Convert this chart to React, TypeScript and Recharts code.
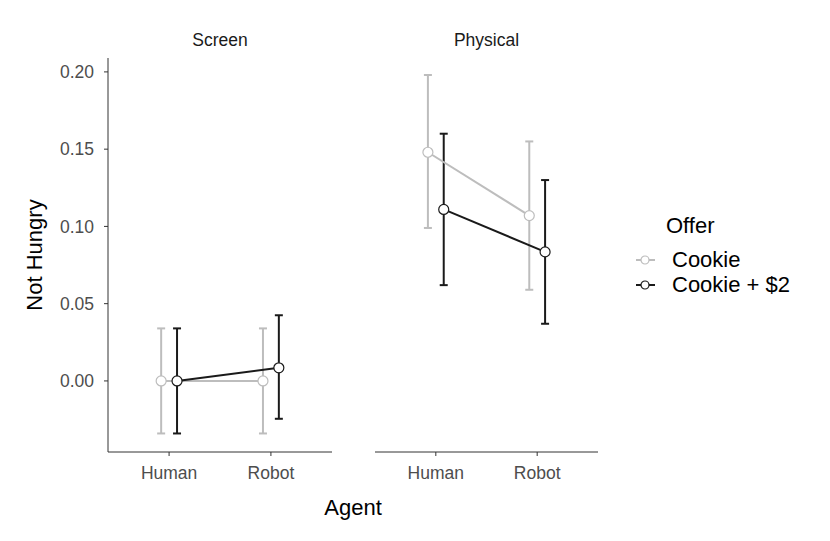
import React from "react";
import { ComposedChart, Scatter, XAxis, YAxis, ErrorBar } from "recharts";

const agents = ["Human", "Robot"];
const panels = ["Screen", "Physical"];
const offers = ["Cookie", "Cookie + $2"];

// means and [low, high] CIs
const screenCookie = [0.0, 0.0];
const screenCookieCI = [[-0.034, 0.034], [-0.034, 0.034]];
const screenCookie2 = [0.0, 0.0085];
const screenCookie2CI = [[-0.034, 0.034], [-0.0245, 0.0425]];
const physCookie = [0.148, 0.107];
const physCookieCI = [[0.099, 0.198], [0.059, 0.155]];
const physCookie2 = [0.111, 0.0835];
const physCookie2CI = [[0.062, 0.160], [0.037, 0.130]];

const yTicks = [0, 0.05, 0.1, 0.15, 0.2];

const GRAY = "#bdbdbd";
const BLACK = "#1a1a1a";
const FONT = "'Liberation Sans', Arial, sans-serif";
const DODGE = 0.078;

function rows(means: number[], ci: number[][], offset: number) {
  return means.map((m, i) => ({
    x: i + 1 + offset,
    y: m,
    err: [m - ci[i][0], ci[i][1] - m],
  }));
}

const dot = (color: string) => (props: any) => (
  <circle cx={props.cx} cy={props.cy} r={5} fill="#fff" stroke={color} strokeWidth={1.2} />
);

function Panel({ cookie, cookieCI, cookie2, cookie2CI, showY, width }: any) {
  const a = rows(cookie, cookieCI, -DODGE);
  const b = rows(cookie2, cookie2CI, DODGE);
  return (
    <ComposedChart
      width={width}
      height={500}
      margin={{ top: 58, right: 0, bottom: 8, left: 0 }}
    >
      <XAxis
        type="number"
        dataKey="x"
        domain={[0.4, 2.6]}
        ticks={[1, 2]}
        allowDataOverflow
        tickFormatter={(v) => agents[v - 1]}
        tickSize={4}
        tickMargin={11}
        height={40}
        stroke="#333"
        tick={{ fill: "#4d4d4d", fontSize: 17.5, fontFamily: FONT }}
      />
      <YAxis
        type="number"
        dataKey="y"
        hide={!showY}
        width={108}
        domain={[-0.046, 0.209]}
        ticks={yTicks}
        allowDataOverflow
        tickFormatter={(v) => v.toFixed(2)}
        tickSize={4}
        tickMargin={10}
        stroke="#333"
        tick={{ fill: "#4d4d4d", fontSize: 17.5, fontFamily: FONT }}
      />
      <Scatter
        data={a}
        dataKey="y"
        line={{ stroke: GRAY, strokeWidth: 2 }}
        shape={dot(GRAY)}
        isAnimationActive={false}
      >
        <ErrorBar dataKey="err" direction="y" width={4} stroke={GRAY} strokeWidth={2} />
      </Scatter>
      <Scatter
        data={b}
        dataKey="y"
        line={{ stroke: BLACK, strokeWidth: 2 }}
        shape={dot(BLACK)}
        isAnimationActive={false}
      >
        <ErrorBar dataKey="err" direction="y" width={4} stroke={BLACK} strokeWidth={2} />
      </Scatter>
    </ComposedChart>
  );
}

export default function App() {
  const text = { position: "absolute" as const, fontFamily: FONT };
  return (
    <div style={{ position: "absolute", left: 0, top: 0, width: 830, height: 541, background: "#fff" }}>
      <div style={{ ...text, left: 0, top: 0 }}>
        <Panel
          cookie={screenCookie}
          cookieCI={screenCookieCI}
          cookie2={screenCookie2}
          cookie2CI={screenCookie2CI}
          showY
          width={332}
        />
      </div>
      <div style={{ ...text, left: 375, top: 0 }}>
        <Panel
          cookie={physCookie}
          cookieCI={physCookieCI}
          cookie2={physCookie2}
          cookie2CI={physCookie2CI}
          width={223}
        />
      </div>
      <div style={{ ...text, left: 108, width: 224, top: 30, textAlign: "center", fontSize: 17.5, color: "#1a1a1a" }}>
        {panels[0]}
      </div>
      <div style={{ ...text, left: 375, width: 223, top: 30, textAlign: "center", fontSize: 17.5, color: "#1a1a1a" }}>
        {panels[1]}
      </div>
      <div style={{ ...text, left: 108, width: 490, top: 495, textAlign: "center", fontSize: 22, color: "#000" }}>
        Agent
      </div>
      <div
        style={{
          ...text,
          left: 35,
          top: 255,
          fontSize: 22,
          color: "#000",
          transform: "translate(-50%, -50%) rotate(-90deg)",
          whiteSpace: "nowrap",
        }}
      >
        Not Hungry
      </div>
      <div style={{ ...text, left: 666, top: 213, fontSize: 22, color: "#000" }}>Offer</div>
      {offers.map((o, i) => (
        <div key={o} style={{ ...text, left: 636, top: 247 + i * 25, height: 26, display: "flex", alignItems: "center" }}>
          <svg width={20} height={20}>
            <line x1={0} x2={19} y1={10} y2={10} stroke={i === 0 ? GRAY : BLACK} strokeWidth={2} />
            <circle cx={9} cy={10} r={4} fill="#fff" stroke={i === 0 ? GRAY : BLACK} strokeWidth={1.2} />
          </svg>
          <span style={{ marginLeft: 16, fontSize: 22, color: "#000" }}>{o}</span>
        </div>
      ))}
    </div>
  );
}
